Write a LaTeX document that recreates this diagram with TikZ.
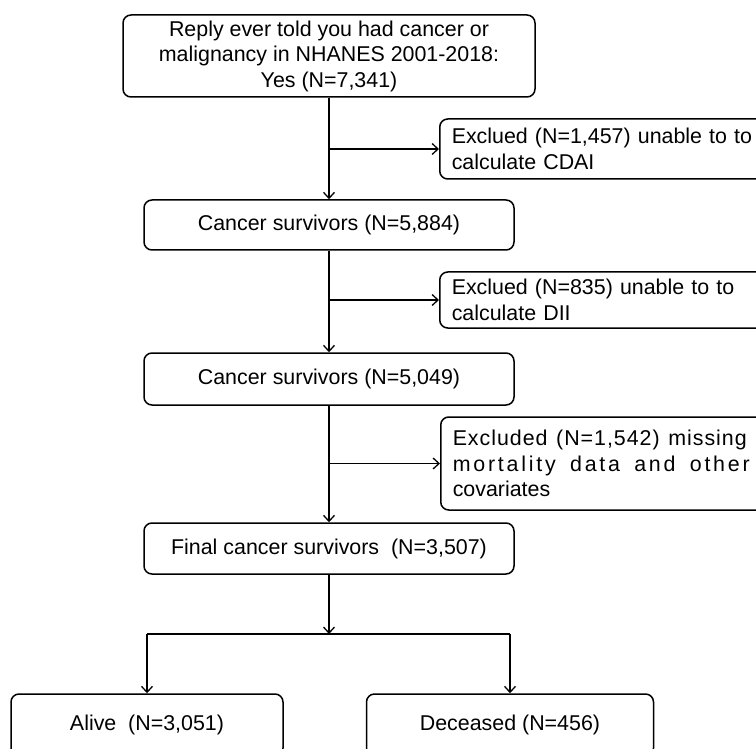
\documentclass[tikz,border=0pt]{standalone}
\usepackage{fontspec}
\setmainfont{Liberation Sans}
\usetikzlibrary{arrows.meta}

\tikzset{
  box/.style={draw, line width=1.5pt, rounded corners=8pt, align=center, inner sep=0pt,
    font=\fontsize{21.4}{25.5}\selectfont},
  exbox/.style={box, anchor=west, align=left, text width=306pt, inner xsep=12pt},
  link/.style={line width=1.3pt, -{Straight Barb[length=6pt,width=11pt,line width=1.3pt]}}
}

\begin{document}
\begin{tikzpicture}[x=1pt,y=1pt]
    \useasboundingbox (0,0) rectangle (756,-749);
    % main column
    \node[box, minimum width=412pt, minimum height=82pt] (top) at (329,-56)
      {Reply ever told you had cancer or\\malignancy in NHANES 2001-2018:\\Yes (N=7,341)};
    \node[box, minimum width=370pt, minimum height=50pt] (surv1) at (329,-225) {Cancer survivors (N=5,884)};
    \node[box, minimum width=370pt, minimum height=52pt] (surv2) at (329,-379) {Cancer survivors (N=5,049)};
    \node[box, minimum width=370pt, minimum height=51pt] (final) at (329,-548.5) {Final cancer survivors\ \ (N=3,507)};
    % exclusions
    \node[exbox, minimum height=60pt] (exc1) at (439,-149) {Exclued (N=1,457) unable to to\\calculate CDAI};
    \node[exbox, minimum height=56pt] (exc2) at (439,-300) {Exclued (N=835) unable to to\\calculate DII};
    \node[exbox, minimum height=93pt] (exc3) at (440,-463.5)
      {\makebox[294pt]{\addfontfeature{LetterSpace=4.5}Excluded\hfill(N=1,542)\hfill missing}\\
       \makebox[297pt]{\addfontfeature{LetterSpace=13}mortality\hfill data\hfill and\hfill other}\\
       covariates};
    % outcome
    \node[box, minimum width=272pt, minimum height=62pt] (alive) at (147,-725) {Alive\ \ (N=3,051)};
    \node[box, minimum width=287pt, minimum height=62pt] (dead) at (510,-725) {Deceased (N=456)};
    \coordinate (split) at (329,-634);

    \draw[link] (top) -- (surv1);
    \draw[link] (surv1) -- (surv2);
    \draw[link] (surv2) -- (final);
    \draw[link] (top.south |- exc1.west) -- (exc1.west);
    \draw[link] (surv1.south |- exc2.west) -- (exc2.west);
    \draw[link] (surv2.south |- exc3.west) -- (exc3.west);
    \draw[link] (final) -- (split);
    \draw[line width=1.3pt] (alive |- split) -- (dead |- split);
    \draw[link] (alive |- split) -- (alive);
    \draw[link] (dead |- split) -- (dead);
  \end{tikzpicture}
\end{document}
